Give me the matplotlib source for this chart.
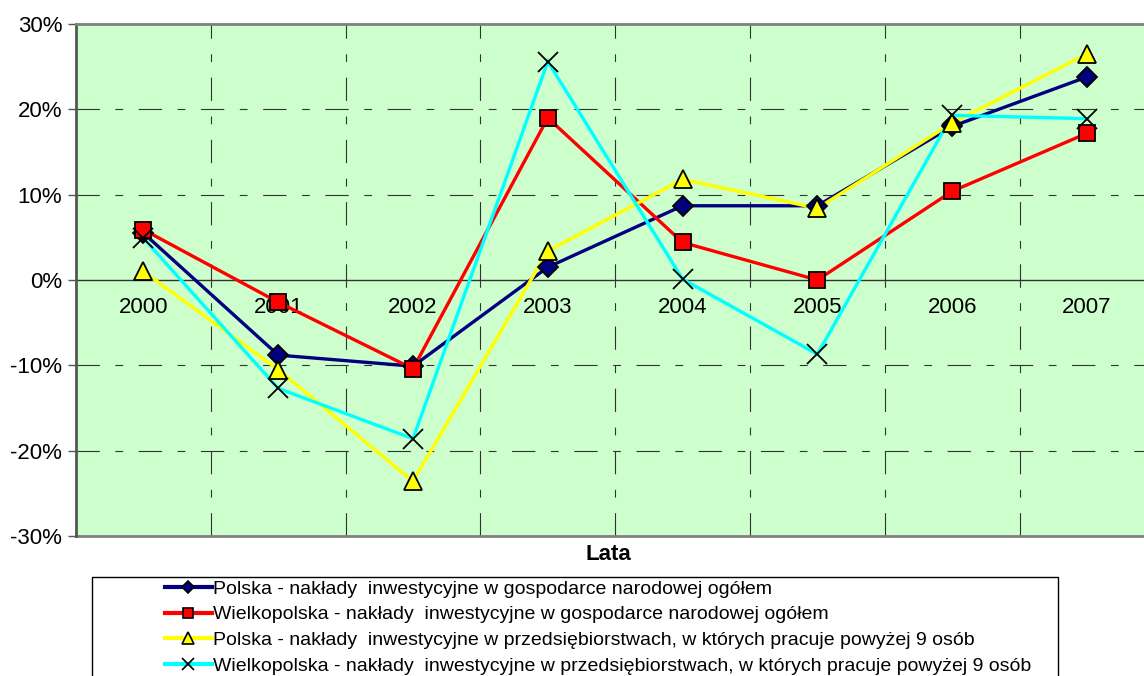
import matplotlib
matplotlib.use("Agg")
import matplotlib.pyplot as plt
from matplotlib.patches import Rectangle
from matplotlib.ticker import FixedLocator

plt.rcParams['font.family'] = ['Liberation Sans', 'DejaVu Sans']

years = ['2000', '2001', '2002', '2003', '2004', '2005', '2006', '2007']
polska_ogolem = [5.5, -8.8, -10.1, 1.5, 8.7, 8.7, 18.0, 23.8]
wlkp_ogolem = [5.9, -2.6, -10.4, 19.0, 4.4, 0.0, 10.4, 17.2]
polska_przeds = [1.0, -10.5, -23.6, 3.4, 11.8, 8.4, 18.4, 26.5]
wlkp_przeds = [4.9, -12.7, -18.6, 25.6, 0.1, -8.7, 19.3, 18.9]

labels = [
    'Polska - nakłady  inwestycyjne w gospodarce narodowej ogółem',
    'Wielkopolska - nakłady  inwestycyjne w gospodarce narodowej ogółem',
    'Polska - nakłady  inwestycyjne w przedsiębiorstwach, w których pracuje powyżej 9 osób',
    'Wielkopolska - nakłady  inwestycyjne w przedsiębiorstwach, w których pracuje powyżej 9 osób',
]

W, H = 1144, 676
fig = plt.figure(figsize=(W / 100, H / 100), dpi=100)
ax = fig.add_axes([76 / W, 1 - 536 / H, 1 - 76 / W, 512 / H])
ax.set_facecolor('#CCFFCC')

x = list(range(len(years)))
styles = [
    (polska_ogolem, '#000080', 'D', '#000080', 10),
    (wlkp_ogolem, '#FF0000', 's', '#FF0000', 12),
    (polska_przeds, '#FFFF00', '^', '#FFFF00', 13),
    (wlkp_przeds, '#00FFFF', 'x', 'none', 14),
]
handles = []
for (vals, col, mk, fc, ms), lab in zip(styles, labels):
    ax.plot(x, vals, color=col, lw=2.4, zorder=3, solid_joinstyle='miter')
    ax.plot(x, vals, ls='none', marker=mk, ms=ms, mfc=fc, mec='black',
            mew=1.3, zorder=4)
    h, = plt.plot([], [], color=col, lw=3, marker=mk, ms=ms * 0.65,
                  mfc=fc, mec='black', mew=1.2, label=lab)
    handles.append(h)

step = 134.8
ax.set_xlim(-0.5, -0.5 + (W - 76) / step)
ax.set_ylim(-30, 30)

# zero line carries the category labels
ax.spines['bottom'].set_position(('data', 0))
ax.spines['bottom'].set_color('#333333')
ax.spines['bottom'].set_linewidth(1.0)
ax.spines['bottom'].set_zorder(2)
ax.spines['top'].set_color('#808080')
ax.spines['top'].set_linewidth(2)
ax.spines['left'].set_color('#555555')
ax.spines['left'].set_linewidth(2)
ax.spines['right'].set_visible(False)
ax.axhline(-30, color='#808080', lw=2, clip_on=False, zorder=2)

ax.set_yticks([-30, -20, -10, 0, 10, 20, 30])
ax.set_yticklabels(['%d%%' % v for v in [-30, -20, -10, 0, 10, 20, 30]])
ax.tick_params(axis='y', direction='out', length=6, color='#555555', width=1,
               pad=4, labelsize=16)

ax.set_xticks(x)
ax.set_xticklabels(years)
ax.xaxis.set_minor_locator(FixedLocator([i + 0.5 for i in range(8)]))
ax.tick_params(axis='x', which='major', length=0, pad=12, labelsize=16)
ax.tick_params(axis='x', which='minor', direction='inout', length=10, color='#333333')

grid_dash = (21, 14, 7, 14)
for yv in [-20, -10, 10, 20]:
    ax.axhline(yv, color='#333333', lw=0.8, dashes=grid_dash, zorder=1)
for xv in [i + 0.5 for i in range(8)]:
    ax.axvline(xv, color='#333333', lw=0.8, dashes=grid_dash, zorder=1)

fig.text(608 / W, 1 - 555 / H, 'Lata', fontsize=16, fontweight='bold',
         ha='center', va='center')

fig.patches.append(Rectangle((92 / W, -0.05), (1058 - 92) / W, 0.05 + 1 - 577 / H,
                             transform=fig.transFigure, fill=False,
                             edgecolor='black', lw=1))
fig.legend(handles=handles, loc='upper left',
           bbox_to_anchor=(163 / W, 1 - 578 / H), frameon=False,
           fontsize=14, handlelength=2.4, handletextpad=0.05,
           labelspacing=0.42, borderpad=0.1, borderaxespad=0)

fig.savefig('out.png', dpi=100)
